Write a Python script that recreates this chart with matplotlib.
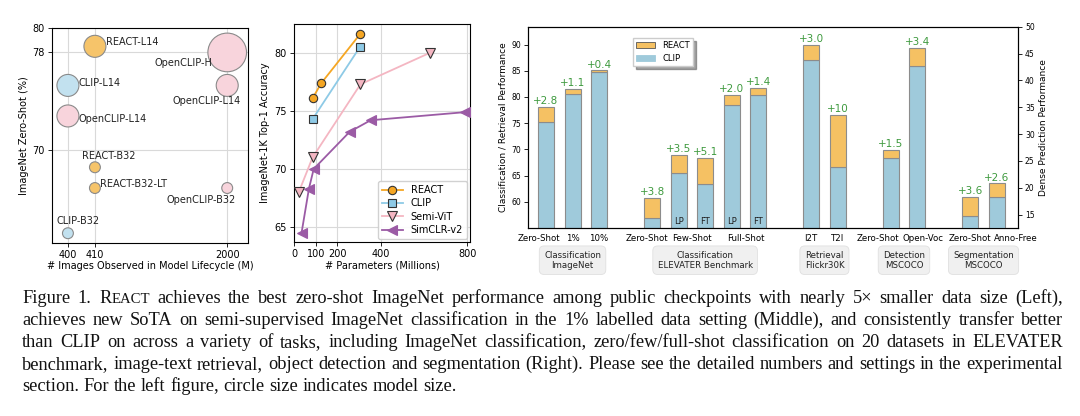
import numpy as np
import matplotlib.pyplot as plt
from matplotlib.patches import Patch

# ---- left panel: zero-shot accuracy vs. data size (circle = model size)
bubble_names = ['REACT-L14', 'OpenCLIP-H', 'CLIP-L14', 'OpenCLIP-L14', 'OpenCLIP-L14',
                'REACT-B32', 'REACT-B32-LT', 'OpenCLIP-B32', 'CLIP-B32']
bubble_family = ['REACT', 'OpenCLIP', 'CLIP', 'OpenCLIP', 'OpenCLIP',
                 'REACT', 'REACT', 'OpenCLIP', 'CLIP']
bubble_images = [410, 2000, 400, 400, 2000, 410, 410, 2000, 400]
bubble_acc = [78.5, 78.0, 75.3, 72.8, 75.3, 68.6, 66.9, 66.9, 63.2]
bubble_params = [428, 986, 428, 428, 428, 151, 151, 151, 151]
image_ticks = [400, 410, 2000]

# ---- middle panel: semi-supervised ImageNet (1%)
react_params = [86, 126, 304]
react_acc = [76.1, 77.4, 81.6]
clip_params = [86, 304]
clip_acc = [74.3, 80.5]
semivit_params = [22, 86, 307, 626]
semivit_acc = [68.0, 71.0, 77.3, 80.0]
simclr_params = [35, 69, 91, 257, 354, 792]
simclr_acc = [64.5, 68.3, 70.0, 73.2, 74.2, 74.9]

# ---- right panel: transfer tasks
task_ticks = ['Zero-Shot', '1%', '10%', 'Zero-Shot', 'Few-Shot', 'Full-Shot',
              'I2T', 'T2I', 'Zero-Shot', 'Open-Voc', 'Zero-Shot', 'Anno-Free']
bar_clip = [75.3, 80.5, 84.7, 57.0, 65.4, 63.3, 78.4, 80.4,
            87.0, 66.6, 25.6, 42.7, 14.7, 18.2]
bar_gain = [2.8, 1.1, 0.4, 3.8, 3.5, 5.1, 2.0, 1.4,
            3.0, 10.0, 1.5, 3.4, 3.6, 2.6]
bar_gain_text = ['+2.8', '+1.1', '+0.4', '+3.8', '+3.5', '+5.1', '+2.0', '+1.4',
                 '+3.0', '+10', '+1.5', '+3.4', '+3.6', '+2.6']
bar_note = ['', '', '', '', 'LP', 'FT', 'LP', 'FT', '', '', '', '', '', '']
bar_dense = [False] * 10 + [True] * 4
groups = ['Classification\nImageNet', 'Classification\nELEVATER Benchmark',
          'Retrieval\nFlickr30K', 'Detection\nMSCOCO', 'Segmentation\nMSCOCO']

caption_lines = [
    "Figure 1. REACT achieves the best zero-shot ImageNet performance among public checkpoints with nearly 5\u00d7 smaller data size (Left),",
    "achieves new SoTA on semi-supervised ImageNet classification in the 1% labelled data setting (Middle), and consistently transfer better",
    "than CLIP on across a variety of tasks, including ImageNet classification, zero/few/full-shot classification on 20 datasets in ELEVATER",
    "benchmark, image-text retrieval, object detection and segmentation (Right). Please see the detailed numbers and settings in the experimental",
    "section. For the left figure, circle size indicates model size.",
]

fam_color = {'REACT': '#f6c46a', 'CLIP': '#c2e1ef', 'OpenCLIP': '#f8d4dc'}
ORANGE = '#f5a623'
BLUE = '#8ecae6'
PINK = '#f4b6c2'
PURPLE = '#9b5ba5'
BAR_BLUE = '#9fcadb'
BAR_ORANGE = '#f5c163'
GREEN = '#3e9a3e'
GRID = '#d9d9d9'

fig = plt.figure(figsize=(10.8, 4.16), dpi=100)

# ================= left
ax1 = fig.add_axes([52 / 1080, 1 - 243 / 416, 196 / 1080, 215 / 416])
tick_pos = [0, 1, 5.9]
xmap = dict(zip(image_ticks, tick_pos))
bx = [xmap[v] for v in bubble_images]
bs = [251 * (p / 428) ** 1.35 for p in bubble_params]
ax1.scatter(bx, bubble_acc, s=bs, c=[fam_color[f] for f in bubble_family],
            edgecolors='#8a8a8a', linewidths=0.8, zorder=3)
# label offsets (pixels) and alignment
lab_off = [(11, 4, 'left'), (-15, -11, 'right'), (11, 2, 'left'), (11, -3, 'left'),
           (-21, -16, 'center'), (14, 11, 'center'), (5, 4, 'left'),
           (-26, -12, 'center'), (10, 12, 'center')]
for name, x, y, (dx, dy, ha) in zip(bubble_names, bx, bubble_acc, lab_off):
    ax1.annotate(name, (x, y), xytext=(dx, dy), textcoords='offset pixels',
                 ha=ha, va='center', fontsize=7, color='#222222', zorder=4)
ax1.set_xticks(tick_pos)
ax1.set_xticklabels([str(v) for v in image_ticks])
ax1.set_xlim(-0.59, 6.67)
ax1.set_ylim(62.4, 80)
ax1.set_yticks([70, 78, 80])
ax1.grid(True, color=GRID, linewidth=0.8, zorder=0)
ax1.set_axisbelow(True)
ax1.tick_params(labelsize=7, length=3, width=0.6, pad=2)
ax1.set_xlabel('# Images Observed in Model Lifecycle (M)', fontsize=7, labelpad=1)
ax1.set_ylabel('ImageNet Zero-Shot (%)', fontsize=7, labelpad=3)

# ================= middle
ax2 = fig.add_axes([294 / 1080, 1 - 242 / 416, 176 / 1080, 218 / 416])
ax2.plot(react_params, react_acc, '-o', color=ORANGE, mfc=ORANGE, mec='#333333',
         mew=0.8, ms=6, lw=1.3, label='REACT', zorder=4)
ax2.plot(clip_params, clip_acc, '-s', color=BLUE, mfc=BLUE, mec='#333333',
         mew=0.8, ms=6, lw=1.3, label='CLIP', zorder=4)
ax2.plot(semivit_params, semivit_acc, '-v', color=PINK, mfc=PINK, mec='#333333',
         mew=0.8, ms=6.5, lw=1.3, label='Semi-ViT', zorder=3)
ax2.plot(simclr_params, simclr_acc, '-<', color=PURPLE, mfc=PURPLE, mec=PURPLE,
         mew=0.8, ms=6.5, lw=1.3, label='SimCLR-v2', zorder=3)
ax2.set_xlim(0, 813)
ax2.set_ylim(63.7, 82.5)
ax2.set_xticks([0, 100, 200, 400, 800])
ax2.set_yticks([65, 70, 75, 80])
ax2.grid(True, color=GRID, linewidth=0.8, zorder=0)
ax2.set_axisbelow(True)
ax2.tick_params(labelsize=7, length=3, width=0.6, pad=2)
ax2.set_xlabel('# Parameters (Millions)', fontsize=7, labelpad=1)
ax2.set_ylabel('ImageNet-1K Top-1 Accuracy', fontsize=7, labelpad=3)
ax2.legend(loc='lower right', fontsize=7, borderaxespad=0.3, handlelength=2.2,
           labelspacing=0.35, framealpha=0.9)

# ================= right
ax3 = fig.add_axes([528 / 1080, 1 - 228 / 416, 490 / 1080, 201.3 / 416])
ax4 = ax3.twinx()
bar_pos = [0, 1, 2, 4, 5, 6, 7, 8, 10, 11, 13, 14, 16, 17]
tick_x = [-0.25, 1, 2, 3.8, 5.5, 7.55, 10, 11, 12.5, 14.2, 16, 17.7]
group_x = [1, 6, 10.5, 13.5, 16.5]
for x, c, g, gt, note, dense in zip(bar_pos, bar_clip, bar_gain, bar_gain_text,
                                    bar_note, bar_dense):
    ax = ax4 if dense else ax3
    ax.bar(x, c, width=0.6, color=BAR_BLUE, edgecolor='#8c8c8c', linewidth=0.8, zorder=2)
    ax.bar(x, g, width=0.6, bottom=c, color=BAR_ORANGE, edgecolor='#8c8c8c',
           linewidth=0.8, zorder=2)
    ax.annotate(gt, (x, c + g), xytext=(0, 0.5), textcoords='offset points',
                ha='center', va='bottom', fontsize=7.5, color=GREEN)
    if note:
        ax.text(x, 0.01, note, transform=ax.get_xaxis_transform(), ha='center',
                va='bottom', fontsize=6, color='#222222', zorder=3)
ax3.set_xlim(-0.68, 17.8)
ax3.set_ylim(55, 93.4)
ax4.set_ylim(12.5, 50)
ax3.set_yticks([60, 65, 70, 75, 80, 85, 90])
ax4.set_yticks([15, 20, 25, 30, 35, 40, 45, 50])
ax3.set_xticks(tick_x)
ax3.set_xticklabels(task_ticks)
ax3.tick_params(axis='x', labelsize=6.2, length=0, pad=4)
ax3.tick_params(axis='y', labelsize=5.5, length=3, width=0.6, pad=2)
ax4.tick_params(labelsize=5.5, length=3, width=0.6, pad=2)
ax3.set_ylabel('Classification / Retrieval Performance', fontsize=6.5, labelpad=3)
ax4.set_ylabel('Dense Prediction Performance', fontsize=6.5, labelpad=3)
for gx, gl in zip(group_x, groups):
    ax3.text(gx, -0.16, gl, transform=ax3.get_xaxis_transform(), ha='center',
             va='center', fontsize=6.2, linespacing=1.15, color='#222222',
             bbox=dict(boxstyle='round,pad=0.55', fc='#f0f0f0', ec='#e0e0e0', lw=0.6))
handles = [Patch(fc=BAR_ORANGE, ec='#555555', lw=0.6, label='REACT'),
           Patch(fc=BAR_BLUE, ec='#9fcadb', lw=0.6, label='CLIP')]
ax3.legend(handles=handles, loc='upper left', bbox_to_anchor=(0.214, 0.944),
           borderaxespad=0, fontsize=6, shadow=True, fancybox=False,
           framealpha=1, edgecolor='#cccccc', handlelength=2.3, labelspacing=0.4)

# ================= caption (justified)
fig.canvas.draw()
rend = fig.canvas.get_renderer()
W, H = fig.bbox.width, fig.bbox.height
cap_left, cap_right = 22, 1063
cap_base = [303, 325, 347, 369, 391]
# pick a font size so the longest full line just fits the text width
natural = []
for line in caption_lines[:-1]:
    tmp = fig.text(0, 0, line, fontsize=12, family='Liberation Serif')
    natural.append(tmp.get_window_extent(rend).width)
    tmp.remove()
cap_fs = 12 * (cap_right - cap_left) / max(natural) * 0.99
for i, line in enumerate(caption_lines):
    words = line.split(' ')
    pieces = []
    for w in words:
        segs = [('R', cap_fs), ('EACT', cap_fs * 0.8)] if w == 'REACT' else [(w, cap_fs)]
        pieces.append([fig.text(0, 0, s, fontsize=fs, family='Liberation Serif',
                                va='baseline', ha='left', color='#111111')
                       for s, fs in segs])
    widths = [[t.get_window_extent(rend).width for t in ts] for ts in pieces]
    total = sum(sum(ws) for ws in widths)
    if i < len(caption_lines) - 1:
        gap = (cap_right - cap_left - total) / (len(words) - 1)
    else:
        gap = cap_fs * 100 / 72 * 0.25
    x = cap_left
    for ts, ws in zip(pieces, widths):
        for t, w in zip(ts, ws):
            t.set_position((x / W, 1 - cap_base[i] / H))
            x += w
        x += gap

fig.savefig('out.png', dpi=100)
